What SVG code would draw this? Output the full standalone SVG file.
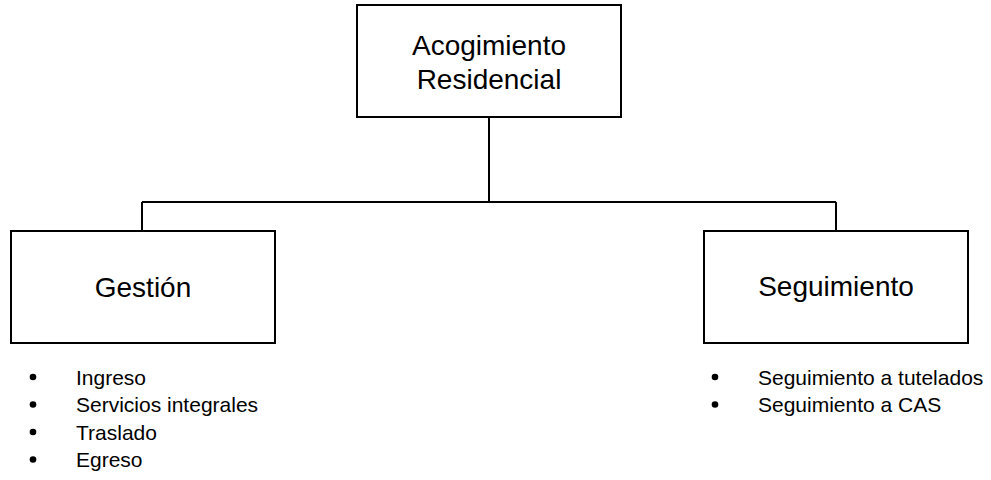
<svg xmlns="http://www.w3.org/2000/svg" width="991" height="480" viewBox="0 0 991 480">
<style>
.box{fill:#fff;stroke:#000;stroke-width:2}
.conn{fill:none;stroke:#000;stroke-width:2}
.t{font-family:"Liberation Sans",Arial,sans-serif;font-size:28px;fill:#000;text-anchor:middle}
.li{font-family:"Liberation Sans",Arial,sans-serif;font-size:21px;fill:#000}
.b{fill:#000}
</style>
<rect width="991" height="480" fill="#fff"/>
<g id="connectors">
<path class="conn" d="M489 117V202M142 202H836M142 202V231M836 202V231"/>
</g>
<g id="acogimiento">
<rect class="box" x="357" y="5" width="264" height="112"/>
<text class="t" x="489" y="55">Acogimiento</text>
<text class="t" x="489" y="89">Residencial</text>
</g>
<g id="gestion">
<rect class="box" x="11" y="231" width="264" height="112"/>
<text class="t" x="143" y="297">Gestión</text>
<circle class="b" cx="33" cy="377" r="3.3"/>
<circle class="b" cx="33" cy="404.5" r="3.3"/>
<circle class="b" cx="33" cy="432" r="3.3"/>
<circle class="b" cx="33" cy="459.5" r="3.3"/>
<text class="li" x="76" y="384.5">Ingreso</text>
<text class="li" x="76" y="412">Servicios integrales</text>
<text class="li" x="76" y="439.5">Traslado</text>
<text class="li" x="76" y="467">Egreso</text>
</g>
<g id="seguimiento">
<rect class="box" x="704" y="231" width="264" height="112"/>
<text class="t" x="836" y="296">Seguimiento</text>
<circle class="b" cx="715" cy="377" r="3.3"/>
<circle class="b" cx="715" cy="404.5" r="3.3"/>
<text class="li" x="758" y="384.5">Seguimiento a tutelados</text>
<text class="li" x="758" y="412">Seguimiento a CAS</text>
</g>
</svg>
